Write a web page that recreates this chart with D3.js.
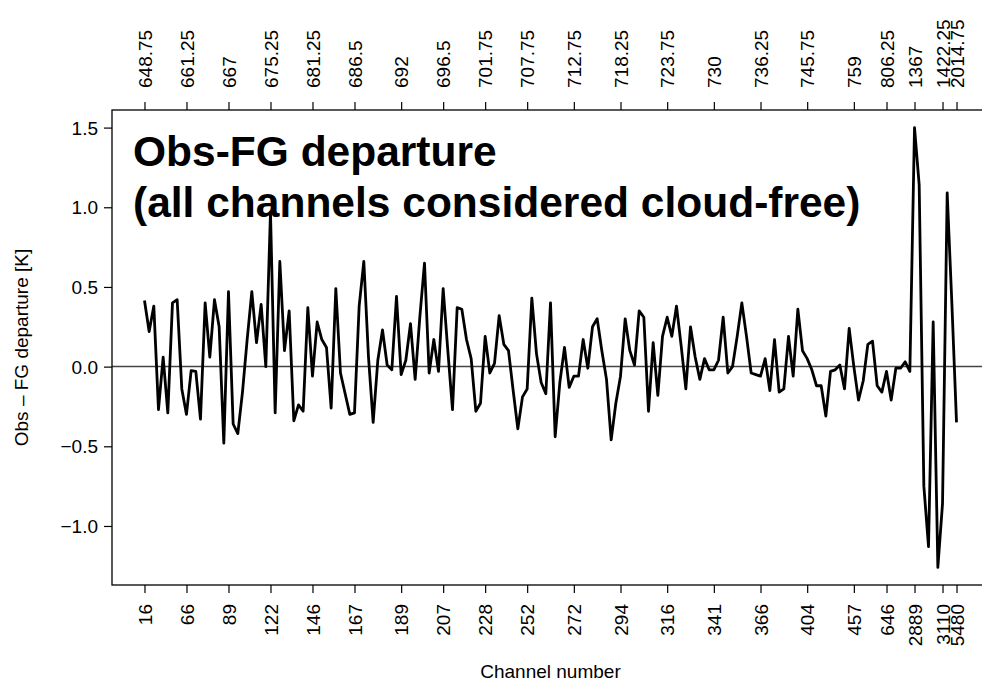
<!DOCTYPE html>
<html><head><meta charset="utf-8">
<script src="https://cdn.jsdelivr.net/npm/d3@7"></script>
<style>
body{margin:0;background:#fff}
svg{display:block}
text{font-family:"Liberation Sans",Arial,Helvetica,sans-serif;fill:#000}
</style>
</head><body>
<svg id="chart" width="982" height="686"></svg>
<script>
// Obs-FG departure [K] for each channel, in plotting order (index 1..n)
const departure = [
  0.415, 0.22, 0.38, -0.27, 0.06, -0.29, 0.40, 0.42, -0.14, -0.30,
  -0.025, -0.03, -0.33, 0.40, 0.06, 0.42, 0.25, -0.48, 0.47, -0.36,
  -0.42, -0.16, 0.17, 0.47, 0.15, 0.39, 0.0, 0.97, -0.29, 0.66,
  0.10, 0.35, -0.34, -0.24, -0.28, 0.37, -0.06, 0.28, 0.17, 0.12,
  -0.26, 0.49, -0.04, -0.17, -0.30, -0.29, 0.38, 0.66, 0.06, -0.35,
  0.04, 0.23, 0.01, -0.02, 0.44, -0.05, 0.04, 0.27, -0.08, 0.31,
  0.65, -0.04, 0.17, -0.03, 0.49, 0.10, -0.27, 0.37, 0.36, 0.17,
  0.05, -0.28, -0.23, 0.19, -0.04, 0.02, 0.32, 0.14, 0.10, -0.15,
  -0.39, -0.19, -0.14, 0.43, 0.08, -0.10, -0.17, 0.40, -0.44, -0.10,
  0.12, -0.13, -0.06, -0.06, 0.17, -0.01, 0.25, 0.30, 0.10, -0.08,
  -0.46, -0.23, -0.06, 0.30, 0.10, 0.01, 0.35, 0.31, -0.28, 0.15,
  -0.18, 0.19, 0.31, 0.19, 0.38, 0.13, -0.14, 0.25, 0.06, -0.08,
  0.05, -0.02, -0.02, 0.04, 0.31, -0.04, 0.0, 0.19, 0.40, 0.19,
  -0.04, -0.05, -0.06, 0.05, -0.15, 0.17, -0.16, -0.14, 0.19, -0.06,
  0.36, 0.10, 0.05, -0.02, -0.12, -0.12, -0.31, -0.03, -0.02, 0.01,
  -0.14, 0.24, 0.0, -0.21, -0.09, 0.14, 0.16, -0.12, -0.16, -0.03,
  -0.21, -0.01, -0.01, 0.03, -0.03, 1.50, 1.14, -0.75, -1.13, 0.28,
  -1.26, -0.86, 1.09, 0.40, -0.35
];

// Labelled positions (plot index) with their channel numbers and wavenumbers
const tickIndex = [1, 10, 19, 28, 37, 46, 56, 65, 74, 83, 93, 103, 113, 123, 133, 143, 153, 160, 166, 172, 175];
const tickChannels = [16, 66, 89, 122, 146, 167, 189, 207, 228, 252, 272, 294, 316, 341, 366, 404, 457, 646, 2889, 3110, 5480];
const tickWavenumbers = ["648.75", "661.25", "667", "675.25", "681.25", "686.5", "692", "696.5", "701.75", "707.75", "712.75", "718.25", "723.75", "730", "736.25", "745.75", "759", "806.25", "1367", "1422.25", "2014.75"];
const yTicks = [-1.0, -0.5, 0.0, 0.5, 1.0, 1.5];

const titleLines = ["Obs-FG departure", "(all channels considered cloud-free)"];
const xTitle = "Channel number";
const yTitle = "Obs \u2013 FG departure [K]";

const svg = d3.select("#chart");
const L = 112, R = 989, T = 110, B = 585;

const n = departure.length;
const xPad = 0.04 * (n - 1);
const x = d3.scaleLinear().domain([1 - xPad, n + xPad]).range([L, R]);
const [ymin, ymax] = d3.extent(departure);
const yPad = 0.04 * (ymax - ymin);
const y = d3.scaleLinear().domain([ymin - yPad, ymax + yPad]).range([B, T]);

// zero reference line
svg.append("line")
  .attr("x1", L).attr("x2", R)
  .attr("y1", y(0)).attr("y2", y(0))
  .attr("stroke", "#444").attr("stroke-width", 1.5);

// data line
svg.append("path")
  .datum(departure)
  .attr("d", d3.line().x((d, i) => x(i + 1)).y(d => y(d)))
  .attr("fill", "none")
  .attr("stroke", "#000")
  .attr("stroke-width", 2.8)
  .attr("stroke-linejoin", "round");

// plot box
svg.append("rect")
  .attr("x", L).attr("y", T)
  .attr("width", R - L).attr("height", B - T)
  .attr("fill", "none").attr("stroke", "#000").attr("stroke-width", 1.3);

const fs = "19px";

// bottom axis: channel numbers
const xb = svg.append("g").attr("transform", `translate(0,${B})`)
  .call(d3.axisBottom(x).tickValues(tickIndex)
    .tickFormat((d, i) => tickChannels[i]).tickSize(8).tickSizeOuter(0));
xb.select(".domain").remove();
xb.selectAll(".tick line").attr("stroke", "#000").attr("stroke-width", 1.2);
xb.selectAll(".tick text")
  .attr("transform", "rotate(-90)")
  .attr("text-anchor", "end")
  .attr("x", -19).attr("y", 0).attr("dy", "0.35em")
  .style("font-size", fs).style("font-family", '"Liberation Sans",Arial,sans-serif');

// top axis: wavenumbers
const xt = svg.append("g").attr("transform", `translate(0,${T})`)
  .call(d3.axisTop(x).tickValues(tickIndex)
    .tickFormat((d, i) => tickWavenumbers[i]).tickSize(8).tickSizeOuter(0));
xt.select(".domain").remove();
xt.selectAll(".tick line").attr("stroke", "#000").attr("stroke-width", 1.2);
xt.selectAll(".tick text")
  .attr("transform", "rotate(-90)")
  .attr("text-anchor", "start")
  .attr("x", 22).attr("y", 0).attr("dy", "0.35em")
  .style("font-size", fs).style("font-family", '"Liberation Sans",Arial,sans-serif');

// left axis
const ya = svg.append("g").attr("transform", `translate(${L},0)`)
  .call(d3.axisLeft(y).tickValues(yTicks).tickFormat(d3.format(".1f"))
    .tickSize(8).tickSizeOuter(0));
ya.select(".domain").remove();
ya.selectAll(".tick line").attr("stroke", "#000").attr("stroke-width", 1.2);
ya.selectAll(".tick text")
  .attr("x", -14).attr("dy", "0.35em")
  .style("font-size", fs).style("font-family", '"Liberation Sans",Arial,sans-serif');

// axis titles
svg.append("text")
  .attr("x", (L + R) / 2).attr("y", 678)
  .attr("text-anchor", "middle")
  .style("font-size", fs)
  .text(xTitle);
svg.append("text")
  .attr("transform", `translate(28,${(T + B) / 2}) rotate(-90)`)
  .attr("text-anchor", "middle")
  .style("font-size", fs)
  .text(yTitle);

// in-plot title
svg.selectAll(".ttl").data(titleLines).enter().append("text")
  .attr("class", "ttl")
  .attr("x", 133)
  .attr("y", (d, i) => 166 + i * 51)
  .style("font-size", "42.5px")
  .style("font-weight", "bold")
  .text(d => d);
</script>
</body></html>
